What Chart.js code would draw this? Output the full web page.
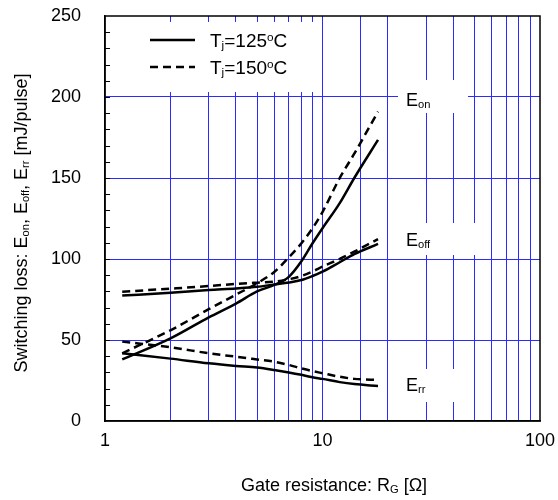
<!DOCTYPE html>
<html>
<head>
<meta charset="utf-8">
<script src="https://cdn.jsdelivr.net/npm/chart.js@4.4.1/dist/chart.umd.min.js"></script>
<style>
  html, body { margin: 0; padding: 0; background: #fff; }
  #wrap { width: 558px; height: 500px; }
</style>
</head>
<body>
<div id="wrap"><canvas id="lossChart" width="558" height="500"></canvas></div>
<script>
// gate resistance (ohm) where the curves were read
const rg = [1.2, 2, 3, 4, 5, 6, 7, 8, 9, 10, 12, 14, 18];

// switching loss, mJ/pulse
const eon125  = [38, 51, 64, 72.5, 80, 84, 89, 98.6, 109.7, 119, 134.5, 150, 173.5];
const eon150  = [41.8, 56, 69, 78, 85, 92, 101, 109.7, 119, 129, 150, 165, 191];
const eoff125 = [77.4, 79.2, 80.9, 81.8, 82.8, 84.3, 85.5, 87, 89.5, 92.2, 98, 103, 109.3];
const eoff150 = [79.8, 81.7, 83.3, 84.6, 85.4, 86, 87.5, 89.5, 92.3, 95.3, 100, 104.5, 112.3];
const err125  = [41.8, 38.5, 35.6, 34, 33, 31.5, 30, 28.5, 27, 26, 24, 22.8, 21.6];
const err150  = [49, 45.5, 41.8, 39.7, 38, 36.6, 34.6, 32.5, 30.8, 29.5, 27.3, 26, 25.3];

const xTickLabels = [1, 10, 100];
const yTickLabels = [0, 50, 100, 150, 200, 250];

const FONT = "'Liberation Sans', Arial, sans-serif";
const BLUE = '#2b2bff';

function pts(vals) {
    return rg.map(function (r, i) { return { x: r, y: vals[i] }; });
}

function curve(vals, dashed) {
    return {
        data: pts(vals),
        borderColor: '#000',
        borderWidth: 2.5,
        borderDash: dashed ? [8, 5] : [],
        pointRadius: 0,
        fill: false,
        cubicInterpolationMode: 'monotone'
    };
}

// draws text with subscript / superscript parts: [[text, mode], ...]
function richText(ctx, parts, x, y, size) {
    let cx = x;
    parts.forEach(function (p) {
        let fs = size, dy = 0;
        if (p[1] === 'sub') { fs = size * 0.62; dy = size * 0.12; }
        if (p[1] === 'sup') { fs = size * 0.62; dy = -size * 0.32; }
        ctx.font = fs + 'px ' + FONT;
        ctx.fillText(p[0], cx, y + dy);
        cx += ctx.measureText(p[0]).width;
    });
    return cx - x;
}

function richWidth(ctx, parts, size) {
    let w = 0;
    parts.forEach(function (p) {
        const fs = p[1] ? size * 0.62 : size;
        ctx.font = fs + 'px ' + FONT;
        w += ctx.measureText(p[0]).width;
    });
    return w;
}

const decorations = {
    id: 'decorations',
    beforeDatasetsDraw(chart) {
        const ctx = chart.ctx;
        ctx.save();
        ctx.fillStyle = '#fff';
        // white boxes behind legend and curve labels
        ctx.fillRect(110, 22, 209, 70);
        ctx.fillRect(398, 80, 70, 33);
        ctx.fillRect(398, 223, 80, 32);
        ctx.fillRect(398, 369, 70, 33);
        ctx.restore();
    },
    afterDatasetsDraw(chart) {
        const ctx = chart.ctx;
        const a = chart.chartArea;
        const ys = chart.scales.y;
        ctx.save();

        // frame
        ctx.strokeStyle = '#000';
        ctx.lineWidth = 1.5;
        ctx.strokeRect(a.left, a.top, a.right - a.left, a.bottom - a.top);

        // minor ticks on y axis, inside
        ctx.lineWidth = 1;
        for (let v = 10; v < 250; v += 10) {
            const py = Math.round(ys.getPixelForValue(v)) + 0.5;
            ctx.beginPath();
            ctx.moveTo(a.left, py);
            ctx.lineTo(a.left + 5, py);
            ctx.stroke();
        }

        // legend
        ctx.lineWidth = 2.5;
        ctx.beginPath();
        ctx.moveTo(150, 40); ctx.lineTo(195, 40);
        ctx.stroke();
        ctx.setLineDash([8, 5]);
        ctx.beginPath();
        ctx.moveTo(150, 67); ctx.lineTo(195, 67);
        ctx.stroke();
        ctx.setLineDash([]);

        ctx.fillStyle = '#000';
        ctx.textBaseline = 'alphabetic';
        ctx.textAlign = 'left';
        richText(ctx, [['T', ''], ['j', 'sub'], ['=125', ''], ['o', 'sup'], ['C', '']], 210, 47, 19);
        richText(ctx, [['T', ''], ['j', 'sub'], ['=150', ''], ['o', 'sup'], ['C', '']], 210, 74, 19);

        // curve labels
        richText(ctx, [['E', ''], ['on', 'sub']], 406, 106, 18);
        richText(ctx, [['E', ''], ['off', 'sub']], 406, 246, 18);
        richText(ctx, [['E', ''], ['rr', 'sub']], 406, 391, 18);

        // x title
        const xt = [['Gate resistance: R', ''], ['G', 'sub'], [' [\u03A9]', '']];
        const xw = richWidth(ctx, xt, 18);
        richText(ctx, xt, 334 - xw / 2, 491, 18);

        // y title, rotated
        const yt = [['Switching loss: E', ''], ['on', 'sub'], [', E', ''], ['off', 'sub'],
                    [', E', ''], ['rr', 'sub'], [' [mJ/pulse]', '']];
        const yw = richWidth(ctx, yt, 18);
        ctx.translate(27, 223);
        ctx.rotate(-Math.PI / 2);
        richText(ctx, yt, -yw / 2, 0, 18);

        ctx.restore();
    }
};

new Chart(document.getElementById('lossChart'), {
    type: 'line',
    data: {
        datasets: [
            curve(eon125, false),
            curve(eon150, true),
            curve(eoff125, false),
            curve(eoff150, true),
            curve(err125, false),
            curve(err150, true)
        ]
    },
    options: {
        responsive: false,
        animation: false,
        layout: { padding: { top: 16, right: 18, left: 0, bottom: 0 } },
        plugins: {
            legend: { display: false },
            tooltip: { enabled: false }
        },
        scales: {
            x: {
                type: 'logarithmic',
                min: 1,
                max: 100,
                afterFit: function (s) {
                    s.height = 79;
                    s.paddingLeft = 0;
                    s.paddingRight = 0;
                },
                grid: {
                    drawTicks: false,
                    lineWidth: 1,
                    color: function (c) {
                        const v = c.tick ? c.tick.value : 0;
                        return (v === 1 || v === 100) ? 'rgba(0,0,0,0)' : BLUE;
                    }
                },
                border: { display: true, color: '#000', width: 1.5 },
                ticks: {
                    autoSkip: false,
                    maxRotation: 0,
                    padding: 9,
                    color: '#000',
                    font: { family: FONT, size: 18 },
                    callback: function (v) { return xTickLabels.includes(v) ? String(v) : ''; }
                }
            },
            y: {
                min: 0,
                max: 250,
                afterFit: function (s) {
                    s.width = 105;
                    s.paddingTop = 0;
                    s.paddingBottom = 0;
                },
                grid: {
                    drawTicks: false,
                    lineWidth: 1,
                    color: function (c) {
                        const v = c.tick ? c.tick.value : 0;
                        return (v % 50 === 0 && v > 0 && v < 250) ? BLUE : 'rgba(0,0,0,0)';
                    }
                },
                border: { display: true, color: '#000', width: 1.5 },
                ticks: {
                    stepSize: 50,
                    padding: 24,
                    color: '#000',
                    font: { family: FONT, size: 18 },
                    callback: function (v) { return yTickLabels.includes(v) ? String(v) : ''; }
                }
            }
        }
    },
    plugins: [decorations]
});
</script>
</body>
</html>
